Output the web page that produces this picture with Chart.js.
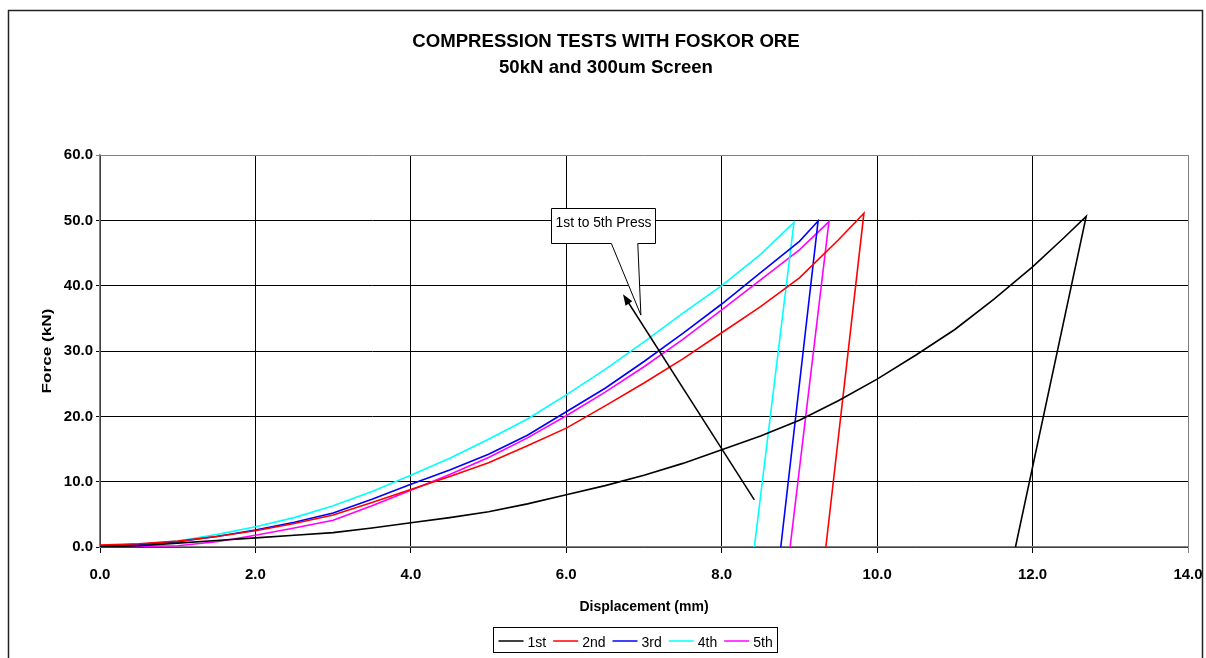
<!DOCTYPE html>
<html>
<head>
<meta charset="utf-8">
<title>Compression Tests with Foskor Ore</title>
<script src="https://cdn.jsdelivr.net/npm/chart.js@4.4.0/dist/chart.umd.min.js"></script>
<style>
  html, body { margin: 0; padding: 0; background: #fff; overflow: hidden; }
  #wrap { position: relative; width: 1206px; height: 658px; }
</style>
</head>
<body>
<div id="wrap"><canvas id="pressChart"></canvas></div>
<script>
/**
 * Compression tests - force vs displacement, five presses
 */

const FONT = '"Liberation Sans", Arial, Helvetica, sans-serif';

// Series names and colours (Excel default line colours)
const pressLabels = ['1st', '2nd', '3rd', '4th', '5th'];
const pressColors = ['#000000', '#ff0000', '#0000ff', '#00ffff', '#ff00ff'];

// [displacement (mm), force (kN)], last point = unload
const press1 = [[0, 0], [0.5, 0.2], [1, 0.6], [1.5, 1.0], [2, 1.4], [2.5, 1.8], [3, 2.2], [3.5, 2.9],
    [4, 3.7], [4.5, 4.5], [5, 5.4], [5.5, 6.6], [6, 8.0], [6.5, 9.4], [7, 11.0], [7.5, 12.8], [8, 14.9],
    [8.5, 17.0], [9, 19.4], [9.5, 22.4], [10, 25.7], [10.5, 29.4], [11, 33.3], [11.5, 37.9], [12, 42.9],
    [12.4, 47.3], [12.69, 50.6], [11.78, 0]];
const press2 = [[0, 0.3], [0.5, 0.5], [1, 0.9], [1.5, 1.6], [2, 2.5], [2.5, 3.6], [3, 4.9], [3.5, 6.8],
    [4, 8.8], [4.5, 10.8], [5, 12.9], [5.5, 15.5], [6, 18.2], [6.5, 21.6], [7, 25.1], [7.5, 28.8], [8, 32.8],
    [8.5, 36.8], [9, 41.2], [9.5, 47.0], [9.83, 51.1], [9.34, 0]];
const press3 = [[0, 0.2], [0.5, 0.4], [1, 0.8], [1.5, 1.6], [2, 2.6], [2.5, 3.8], [3, 5.2], [3.5, 7.3],
    [4, 9.6], [4.5, 11.8], [5, 14.2], [5.5, 17.1], [6, 20.7], [6.5, 24.3], [7, 28.4], [7.5, 32.7], [8, 37.2],
    [8.5, 42.0], [9, 46.8], [9.24, 49.9], [8.76, 0]];
const press4 = [[0, 0.1], [0.5, 0.4], [1, 0.9], [1.5, 1.9], [2, 3.1], [2.5, 4.5], [3, 6.3], [3.5, 8.5],
    [4, 11.0], [4.5, 13.6], [5, 16.5], [5.5, 19.6], [6, 23.3], [6.5, 27.2], [7, 31.4], [7.5, 35.8], [8, 40.0],
    [8.5, 44.8], [8.93, 49.7], [8.42, 0]];
const press5 = [[0, 0], [0.5, 0.1], [1, 0.2], [1.5, 0.8], [2, 1.8], [2.5, 2.9], [3, 4.1], [3.5, 6.3],
    [4, 8.7], [4.5, 11.1], [5, 13.7], [5.5, 16.7], [6, 20.1], [6.5, 23.7], [7, 27.6], [7.5, 31.8], [8, 36.3],
    [8.5, 40.9], [9, 45.5], [9.38, 49.8], [8.88, 0]];

const pressData = [press1, press2, press3, press4, press5];

// Axis ranges
const xTicks = [0, 2, 4, 6, 8, 10, 12, 14];
const yTicks = [0, 10, 20, 30, 40, 50, 60];

// Callout in data units: box, tail tip and arrow
const calloutText = '1st to 5th Press';
const calloutBox = { x0: 5.80, x1: 7.14, y0: 51.9, y1: 46.55 };
const calloutTail = { xa: 6.58, xb: 6.92, tipX: 6.96, tipY: 35.5 };
const arrowLine = { fromX: 8.42, fromY: 7.2, toX: 6.73, toY: 38.7 };

const datasets = pressData.map((pts, i) => ({
    label: pressLabels[i],
    data: pts.map(p => ({ x: p[0], y: p[1] })),
    borderColor: pressColors[i],
    backgroundColor: pressColors[i],
    borderWidth: 1.6,
    pointRadius: 0,
    showLine: true,
    tension: 0
}));

/**
 * Extra drawing: outer frame, axis titles, boxed legend, callout + arrow
 */
const decorPlugin = {
    id: 'decor',
    afterDraw(chart) {
        const ctx = chart.ctx;
        const area = chart.chartArea;
        const xs = chart.scales.x;
        const ys = chart.scales.y;
        const px = v => xs.getPixelForValue(v);
        const py = v => ys.getPixelForValue(v);

        ctx.save();

        // outer chart border
        ctx.strokeStyle = '#222';
        ctx.lineWidth = 1.5;
        ctx.strokeRect(8.5, 10.5, 1194, 700);

        // axis titles
        ctx.fillStyle = '#000';
        ctx.font = 'bold 14px ' + FONT;
        ctx.textAlign = 'center';
        ctx.textBaseline = 'alphabetic';
        ctx.fillText('Displacement (mm)', (area.left + area.right) / 2, 610.5);

        ctx.save();
        ctx.translate(47, (area.top + area.bottom) / 2);
        ctx.rotate(-Math.PI / 2);
        ctx.scale(1.27, 1);
        ctx.font = 'bold 13.5px ' + FONT;
        ctx.textBaseline = 'middle';
        ctx.fillText('Force (kN)', 0, 0);
        ctx.restore();

        // legend with border
        ctx.font = '14px ' + FONT;
        ctx.textAlign = 'left';
        const widths = pressLabels.map(t => ctx.measureText(t).width);
        const boxW = Math.round(10 + widths.reduce((s, w) => s + 36 + w, 0) - 7);
        const boxL = 493.5;
        const boxT = 627.5;
        ctx.strokeStyle = '#000';
        ctx.lineWidth = 1;
        ctx.strokeRect(boxL, boxT, boxW, 25);
        let lx = boxL + 5;
        pressLabels.forEach((t, i) => {
            ctx.strokeStyle = pressColors[i];
            ctx.lineWidth = 1.5;
            ctx.beginPath();
            ctx.moveTo(lx, boxT + 13.5);
            ctx.lineTo(lx + 25, boxT + 13.5);
            ctx.stroke();
            ctx.fillStyle = '#000';
            ctx.fillText(t, lx + 29, boxT + 19);
            lx += 36 + widths[i];
        });

        // arrow
        const ax0 = px(arrowLine.fromX), ay0 = py(arrowLine.fromY);
        const ax1 = px(arrowLine.toX), ay1 = py(arrowLine.toY);
        const ang = Math.atan2(ay1 - ay0, ax1 - ax0);
        ctx.strokeStyle = '#000';
        ctx.fillStyle = '#000';
        ctx.lineWidth = 1.5;
        ctx.beginPath();
        ctx.moveTo(ax0, ay0);
        ctx.lineTo(ax1 - Math.cos(ang) * 6, ay1 - Math.sin(ang) * 6);
        ctx.stroke();
        ctx.beginPath();
        ctx.moveTo(ax1, ay1);
        ctx.lineTo(ax1 - Math.cos(ang) * 11 + Math.sin(ang) * 4, ay1 - Math.sin(ang) * 11 - Math.cos(ang) * 4);
        ctx.lineTo(ax1 - Math.cos(ang) * 11 - Math.sin(ang) * 4, ay1 - Math.sin(ang) * 11 + Math.cos(ang) * 4);
        ctx.closePath();
        ctx.fill();

        // callout box with tail
        const bl = Math.round(px(calloutBox.x0)) + 0.5, br = Math.round(px(calloutBox.x1)) + 0.5;
        const bt = Math.round(py(calloutBox.y0)) + 0.5, bb = Math.round(py(calloutBox.y1)) + 0.5;
        ctx.beginPath();
        ctx.moveTo(bl, bt);
        ctx.lineTo(br, bt);
        ctx.lineTo(br, bb);
        ctx.lineTo(px(calloutTail.xb), bb);
        ctx.lineTo(px(calloutTail.tipX), py(calloutTail.tipY));
        ctx.lineTo(px(calloutTail.xa), bb);
        ctx.lineTo(bl, bb);
        ctx.closePath();
        ctx.fillStyle = '#fff';
        ctx.fill();
        ctx.strokeStyle = '#000';
        ctx.lineWidth = 1;
        ctx.stroke();
        ctx.fillStyle = '#000';
        ctx.font = '13.8px ' + FONT;
        ctx.textAlign = 'center';
        ctx.fillText(calloutText, (bl + br) / 2, bt + 18.5);

        ctx.restore();
    }
};

const edgeColor = (c, edge) => (c.tick && c.tick.value === edge ? '#808080' : '#000');

new Chart(document.getElementById('pressChart'), {
    type: 'scatter',
    data: { datasets: datasets },
    options: {
        responsive: true,
        maintainAspectRatio: false,
        animation: false,
        layout: { padding: { left: 24, right: 18, top: 0, bottom: 0 } },
        plugins: {
            legend: { display: false },
            tooltip: { enabled: false },
            title: {
                display: true,
                text: ['COMPRESSION TESTS WITH FOSKOR ORE', '50kN and 300um Screen'],
                color: '#000',
                font: { family: FONT, size: 18.6, weight: 'bold', lineHeight: 1.4 },
                padding: { top: 28.6, bottom: 74.4 }
            }
        },
        scales: {
            x: {
                type: 'linear',
                min: xTicks[0],
                max: xTicks[xTicks.length - 1],
                afterBuildTicks: (scale) => { scale.ticks = xTicks.map(v => ({ value: v })); },
                afterFit: (scale) => {
                    scale.height = 111;
                    scale.paddingLeft = 0;
                    scale.paddingRight = 0;
                },
                ticks: {
                    color: '#000',
                    font: { family: FONT, size: 15, weight: 'bold' },
                    padding: 13,
                    maxRotation: 0,
                    callback: (v) => Number(v).toFixed(1)
                },
                grid: {
                    color: (c) => edgeColor(c, 14),
                    lineWidth: 1,
                    tickLength: 6
                },
                border: { color: '#808080', width: 1.5 }
            },
            y: {
                type: 'linear',
                min: yTicks[0],
                max: yTicks[yTicks.length - 1],
                afterBuildTicks: (scale) => { scale.ticks = yTicks.map(v => ({ value: v })); },
                afterFit: (scale) => {
                    scale.width = 76;
                    scale.paddingTop = 0;
                    scale.paddingBottom = 0;
                },
                ticks: {
                    color: '#000',
                    font: { family: FONT, size: 15, weight: 'bold' },
                    padding: 3,
                    callback: (v) => Number(v).toFixed(1)
                },
                grid: {
                    color: (c) => edgeColor(c, 60),
                    lineWidth: 1,
                    tickLength: 4
                },
                border: { color: '#808080', width: 1.5 }
            }
        }
    },
    plugins: [decorPlugin]
});
</script>
</body>
</html>
